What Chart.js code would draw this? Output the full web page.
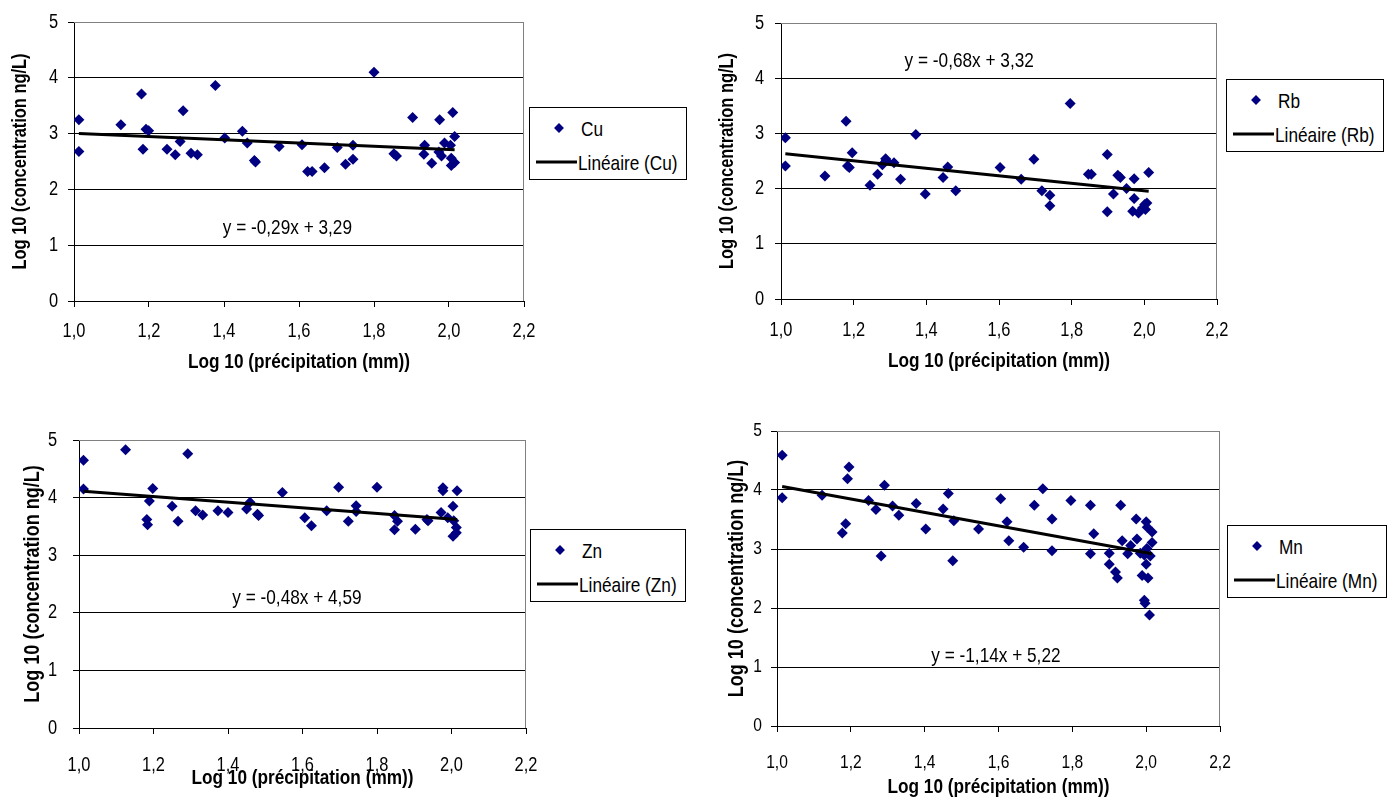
<!DOCTYPE html>
<html>
<head>
<meta charset="utf-8">
<script src="https://cdn.jsdelivr.net/npm/chart.js@4.4.1/dist/chart.umd.min.js"></script>
<style>
  html, body { margin: 0; padding: 0; background: #fff; }
  #wrap { position: relative; width: 1391px; height: 805px; overflow: hidden; background: #fff; }
  canvas { position: absolute; }
  .legend { position: absolute; border: 1px solid #000; background: #fff; box-sizing: border-box; height: 73px;
            font-family: 'Liberation Sans', Arial, sans-serif; font-size: 21px; color: #000; }
  .legend .dia { position: absolute; width: 7px; height: 7px; background: #000080; transform: translate(-50%, -50%) rotate(45deg); }
  .legend .ln { position: absolute; height: 3px; background: #000; transform: translateY(-50%); }
  .legend .tx { position: absolute; transform-origin: left center; transform: translateY(-50%) scaleX(0.82); white-space: nowrap; line-height: 1; }
</style>
</head>
<body>
<div id="wrap"></div>
<script>
// ---------------- DATA ----------------
const xTickLabels = ['1,0', '1,2', '1,4', '1,6', '1,8', '2,0', '2,2'];
const yTickLabels = ['0', '1', '2', '3', '4', '5'];
const xTitle = 'Log 10 (précipitation (mm))';
const yTitle = 'Log 10 (concentration ng/L)';

const cuX = [1.013, 1.013, 1.125, 1.18, 1.192, 1.199, 1.184, 1.248, 1.27, 1.283, 1.291, 1.312, 1.329, 1.377, 1.402, 1.449, 1.462, 1.481, 1.484, 1.547, 1.608, 1.623, 1.635, 1.668, 1.702, 1.724, 1.744, 1.744, 1.80, 1.853, 1.86, 1.903, 1.935, 1.933, 1.954, 1.973, 1.975, 1.98, 1.988, 2.004, 2.01, 2.015, 2.006, 2.006, 2.015];
const cuY = [3.25, 2.68, 3.16, 3.71, 3.08, 3.05, 2.72, 2.72, 2.62, 2.86, 3.41, 2.65, 2.62, 3.86, 2.92, 3.04, 2.83, 2.52, 2.49, 2.77, 2.80, 2.32, 2.32, 2.39, 2.75, 2.45, 2.79, 2.54, 4.10, 2.64, 2.60, 3.29, 2.79, 2.63, 2.47, 2.67, 3.25, 2.60, 2.83, 2.79, 3.38, 2.95, 2.56, 2.43, 2.48];
const cuTrendX = [1.013, 2.015];
const cuTrendY = [3.00, 2.71];

const rbX = [1.012, 1.012, 1.121, 1.179, 1.183, 1.188, 1.196, 1.245, 1.266, 1.279, 1.288, 1.29, 1.311, 1.329, 1.371, 1.397, 1.446, 1.459, 1.481, 1.603, 1.661, 1.696, 1.718, 1.74, 1.74, 1.796, 1.846, 1.854, 1.898, 1.898, 1.915, 1.927, 1.934, 1.951, 1.972, 1.972, 1.968, 1.984, 1.995, 2.001, 2.007, 2.012, 2.003];
const rbY = [2.92, 2.41, 2.23, 3.22, 2.41, 2.38, 2.65, 2.06, 2.26, 2.43, 2.54, 2.51, 2.47, 2.17, 2.98, 1.90, 2.20, 2.39, 1.96, 2.38, 2.17, 2.53, 1.96, 1.88, 1.69, 3.54, 2.26, 2.26, 2.62, 1.58, 1.90, 2.24, 2.20, 2.00, 2.18, 1.82, 1.59, 1.56, 1.65, 1.71, 1.74, 2.29, 1.62];
const rbTrendX = [1.012, 2.012];
const rbTrendY = [2.63, 1.95];

const znX = [1.012, 1.012, 1.125, 1.182, 1.184, 1.189, 1.198, 1.25, 1.266, 1.292, 1.313, 1.332, 1.373, 1.40, 1.45, 1.459, 1.479, 1.482, 1.546, 1.606, 1.624, 1.665, 1.697, 1.723, 1.744, 1.744, 1.80, 1.847, 1.855, 1.847, 1.903, 1.934, 1.937, 1.972, 1.977, 1.977, 1.99, 2.004, 2.006, 2.013, 2.004, 2.013, 2.015];
const znY = [4.65, 4.15, 4.83, 3.62, 3.53, 3.94, 4.16, 3.85, 3.59, 4.76, 3.77, 3.70, 3.77, 3.74, 3.80, 3.92, 3.71, 3.69, 4.09, 3.65, 3.51, 3.77, 4.18, 3.59, 3.86, 3.76, 4.18, 3.69, 3.59, 3.44, 3.45, 3.62, 3.60, 3.74, 4.17, 4.12, 3.65, 3.85, 3.60, 3.48, 3.33, 3.39, 4.12];
const znTrendX = [1.012, 2.015];
const znTrendY = [4.11, 3.62];

const mnX = [1.014, 1.014, 1.122, 1.177, 1.186, 1.191, 1.195, 1.248, 1.268, 1.282, 1.291, 1.313, 1.33, 1.377, 1.403, 1.45, 1.464, 1.476, 1.479, 1.546, 1.606, 1.623, 1.628, 1.668, 1.697, 1.72, 1.745, 1.745, 1.796, 1.849, 1.858, 1.849, 1.90, 1.90, 1.917, 1.922, 1.931, 1.935, 1.95, 1.958, 1.973, 1.975, 1.984, 1.989, 1.995, 1.997, 2.0, 2.003, 2.0, 2.005, 2.009, 2.011, 2.016, 2.016, 2.002, 1.995];
const mnY = [4.59, 3.87, 3.91, 3.27, 3.43, 4.19, 4.39, 3.82, 3.67, 2.88, 4.08, 3.73, 3.57, 3.77, 3.34, 3.68, 3.94, 2.80, 3.48, 3.34, 3.85, 3.46, 3.14, 3.03, 3.74, 4.02, 3.51, 2.97, 3.82, 3.74, 3.26, 2.92, 2.93, 2.74, 2.61, 2.51, 3.74, 3.14, 2.92, 3.06, 3.51, 3.17, 2.93, 2.55, 2.13, 2.08, 3.46, 3.37, 2.74, 2.51, 1.88, 2.88, 3.29, 3.11, 3.01, 2.90];
const mnTrendX = [1.014, 2.016];
const mnTrendY = [4.06, 2.92];

const seriesNames = ['Cu', 'Rb', 'Zn', 'Mn'];
const equations = ['y = -0,29x + 3,29', 'y = -0,68x + 3,32', 'y = -0,48x + 4,59', 'y = -1,14x + 5,22'];

// ---------------- LAYOUT / STYLE ----------------
const FONT = "'Liberation Sans', Arial, sans-serif";
const NARROW = 0.82;          // condensed look of the original (Arial Narrow)
const NAVY = '#000080';

// draw all canvas text horizontally condensed, like Arial Narrow
(function () {
  const P = CanvasRenderingContext2D.prototype;
  const fill = P.fillText, measure = P.measureText;
  P.fillText = function (t, x, y, mw) {
    this.save();
    this.translate(x, y);
    this.scale(NARROW, 1);
    if (mw !== undefined && mw !== null) fill.call(this, t, 0, 0, mw / NARROW);
    else fill.call(this, t, 0, 0);
    this.restore();
  };
  P.measureText = function (t) {
    const m = measure.call(this, t);
    return {
      width: m.width * NARROW,
      actualBoundingBoxAscent: m.actualBoundingBoxAscent,
      actualBoundingBoxDescent: m.actualBoundingBoxDescent,
      actualBoundingBoxLeft: m.actualBoundingBoxLeft * NARROW,
      actualBoundingBoxRight: m.actualBoundingBoxRight * NARROW,
      fontBoundingBoxAscent: m.fontBoundingBoxAscent,
      fontBoundingBoxDescent: m.fontBoundingBoxDescent
    };
  };
})();

const panels = [
  { xs: cuX, ys: cuY, tx: cuTrendX, ty: cuTrendY,
    canvas: { left: 0, top: 0, w: 700, h: 400 }, pad: { left: 0, top: 22, right: 176, bottom: 24 },
    yW: 74, xH: 75, yTitleSize: 20, yTitlePad: 8, yTickSize: 20, yTickPad: 10,
    xTickSize: 20, xTickPad: 12, xTitleSize: 21, xTitlePad: 1,
    eq: { x: 1.569, y: 1.30 }, legend: { left: 529, top: 107, w: 158 } },
  { xs: rbX, ys: rbY, tx: rbTrendX, ty: rbTrendY,
    canvas: { left: 700, top: 0, w: 691, h: 400 }, pad: { left: 0, top: 17, right: 174, bottom: 26 },
    yW: 81, xH: 75, yTitleSize: 20, yTitlePad: 15, yTickSize: 20, yTickPad: 11,
    xTickSize: 20, xTickPad: 13, xTitleSize: 21, xTitlePad: 0,
    eq: { x: 1.518, y: 4.30 }, legend: { left: 1226, top: 79, w: 158 } },
  { xs: znX, ys: znY, tx: znTrendX, ty: znTrendY,
    canvas: { left: 0, top: 400, w: 700, h: 405 }, pad: { left: 0, top: 40, right: 174, bottom: 14 },
    yW: 79, xH: 63, yTitleSize: 22, yTitlePad: 20, yTickSize: 20, yTickPad: 16,
    xTickSize: 20, xTickPad: 19, xTitleSize: 21, xTitlePad: 0,
    eq: { x: 1.585, y: 2.26 }, legend: { left: 530, top: 529, w: 156 } },
  { xs: mnX, ys: mnY, tx: mnTrendX, ty: mnTrendY,
    canvas: { left: 700, top: 400, w: 691, h: 405 }, pad: { left: 0, top: 31, right: 171, bottom: 4 },
    yW: 77, xH: 75, yTitleSize: 22, yTitlePad: 24, yTickSize: 19, yTickPad: 9,
    xTickSize: 19, xTickPad: 19, xTitleSize: 21, xTitlePad: 1,
    eq: { x: 1.593, y: 1.18 }, legend: { left: 1227, top: 525, w: 160 } }
];

Chart.defaults.font.family = FONT;
Chart.defaults.color = '#000';

const wrap = document.getElementById('wrap');

panels.forEach((p, i) => {
  const cv = document.createElement('canvas');
  cv.width = p.canvas.w; cv.height = p.canvas.h;
  cv.style.left = p.canvas.left + 'px'; cv.style.top = p.canvas.top + 'px';
  cv.style.width = p.canvas.w + 'px'; cv.style.height = p.canvas.h + 'px';
  wrap.appendChild(cv);

  const pts = p.xs.map((x, k) => ({ x: x, y: p.ys[k] }));
  const trend = p.tx.map((x, k) => ({ x: x, y: p.ty[k] }));

  const framePlugin = {
    id: 'frame' + i,
    beforeDatasetsDraw(chart) {
      const { ctx, chartArea: a } = chart;
      ctx.save();
      ctx.strokeStyle = '#808080';
      ctx.lineWidth = 1;
      ctx.beginPath();
      ctx.moveTo(a.left, a.top + 0.5);
      ctx.lineTo(a.right - 0.5, a.top + 0.5);
      ctx.lineTo(a.right - 0.5, a.bottom);
      ctx.stroke();
      ctx.restore();
    },
    afterDatasetsDraw(chart) {
      const { ctx } = chart;
      const xs = chart.scales.x, ys = chart.scales.y;
      ctx.save();
      ctx.font = '21px ' + FONT;
      ctx.fillStyle = '#000';
      ctx.textAlign = 'center';
      ctx.textBaseline = 'middle';
      ctx.fillText(equations[i], xs.getPixelForValue(p.eq.x), ys.getPixelForValue(p.eq.y));
      ctx.restore();
    }
  };

  new Chart(cv, {
    type: 'scatter',
    data: {
      datasets: [
        { label: seriesNames[i], data: pts, pointStyle: 'rectRot', pointRadius: 5.5, pointHoverRadius: 5.5,
          backgroundColor: NAVY, borderColor: NAVY, borderWidth: 0, order: 2 },
        { label: 'Linéaire (' + seriesNames[i] + ')', data: trend, showLine: true, borderColor: '#000',
          borderWidth: 3, pointRadius: 0, pointHoverRadius: 0, fill: false, order: 1 }
      ]
    },
    options: {
      responsive: false, animation: false, devicePixelRatio: 1,
      layout: { padding: p.pad },
      plugins: { legend: { display: false }, tooltip: { enabled: false } },
      events: [],
      scales: {
        x: {
          type: 'linear', position: 'bottom', min: 1, max: 2.2,
          afterFit: s => { s.height = p.xH; },
          ticks: { stepSize: 0.2, autoSkip: false, maxRotation: 0, color: '#000',
                   font: { size: p.xTickSize }, padding: p.xTickPad,
                   callback: (v, idx) => xTickLabels[idx] },
          grid: { drawOnChartArea: false, drawTicks: true, tickLength: 6, color: '#000', tickColor: '#000' },
          border: { display: true, color: '#000', width: 1 },
          title: { display: true, text: xTitle, color: '#000',
                   font: { size: p.xTitleSize, weight: 'bold' }, padding: { top: 0, bottom: p.xTitlePad } }
        },
        y: {
          type: 'linear', position: 'left', min: 0, max: 5,
          afterFit: s => { s.width = p.yW; },
          ticks: { stepSize: 1, color: '#000', font: { size: p.yTickSize }, padding: p.yTickPad,
                   callback: (v, idx) => yTickLabels[idx] },
          grid: { drawOnChartArea: true, drawTicks: true, tickLength: 6, tickColor: '#000',
                  color: c => (c.tick && c.tick.value === 5) ? '#808080' : '#000' },
          border: { display: true, color: '#000', width: 1 },
          title: { display: true, text: yTitle, color: '#000',
                   font: { size: p.yTitleSize, weight: 'bold' }, padding: { top: p.yTitlePad, bottom: 0 } }
        }
      }
    },
    plugins: [framePlugin]
  });

  // legend box (HTML)
  const lg = document.createElement('div');
  lg.className = 'legend';
  lg.style.left = p.legend.left + 'px';
  lg.style.top = p.legend.top + 'px';
  lg.style.width = p.legend.w + 'px';
  lg.innerHTML =
    '<div class="dia" style="left:29px;top:20px"></div>' +
    '<div class="tx" style="left:51px;top:20px">' + seriesNames[i] + '</div>' +
    '<div class="ln" style="left:6px;top:54px;width:41px"></div>' +
    '<div class="tx" style="left:48px;top:54px">Linéaire (' + seriesNames[i] + ')</div>';
  wrap.appendChild(lg);
});
</script>
</body>
</html>
